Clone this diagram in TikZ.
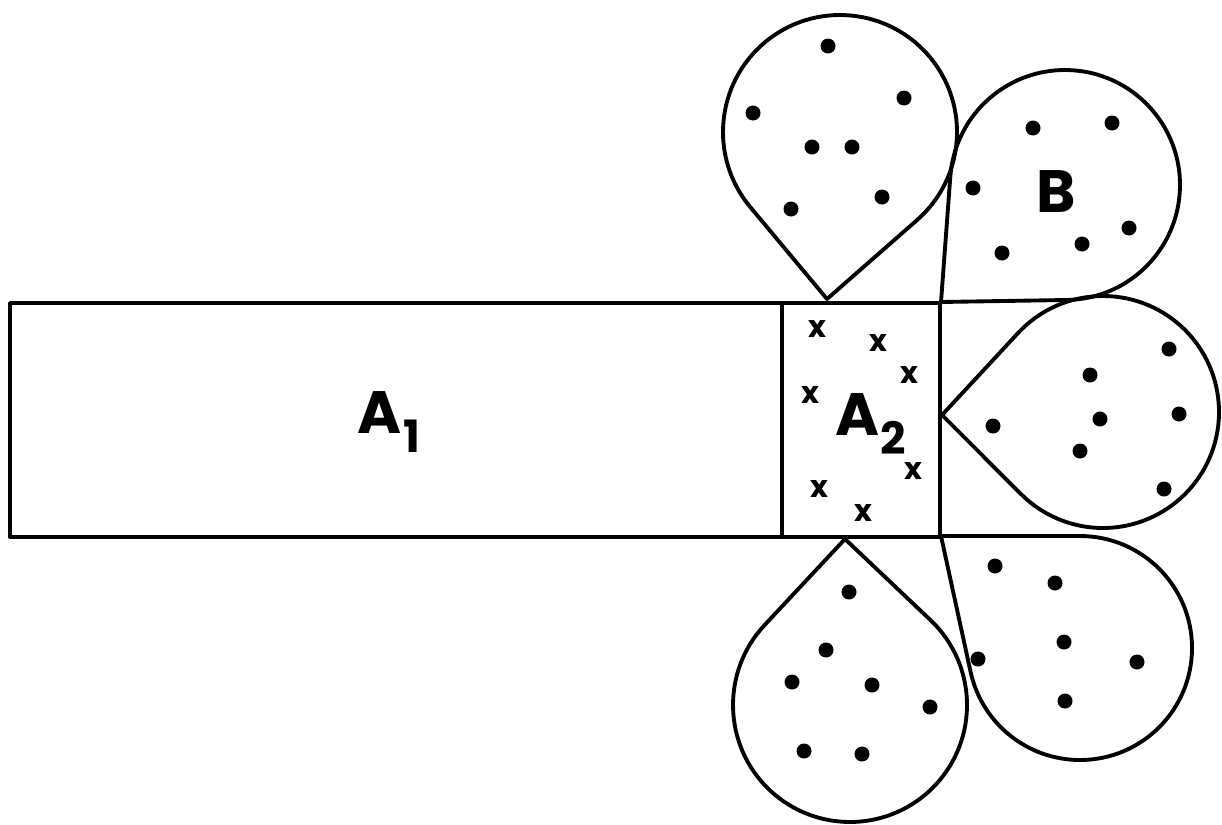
\documentclass[tikz,border=0pt]{standalone}
\usepackage{fontspec}
\setmainfont{Poppins}
\usepackage{tikz}
\usetikzlibrary{calc}
\tikzset{
  outline/.style={
    line width=3.3pt,
    line join=round
  },
  region/.style={
    font=\fontsize{51}{51}\selectfont\bfseries,
    inner sep=0pt
  },
  crossmark/.style={
    font=\fontsize{26}{26}\selectfont\bfseries,
    inner sep=0pt
  },
  dot/.style={
    fill=black
  }
}
% drop with its tip at (#1,#2), round part centred at (#3,#4), radius #5
\newcommand{\drop}[5]{%
  \pgfmathsetmacro{\dropdist}{veclen(#1-#3,#2-#4)}%
  \pgfmathsetmacro{\dropang}{atan2(#2-#4,#1-#3)}%
  \pgfmathsetmacro{\dropopen}{acos(#5/\dropdist)}%
  \draw[outline] (#1,#2) -- ($(#3,#4)+(\dropang+\dropopen:#5)$)
    arc[start angle=\dropang+\dropopen, delta angle=360-2*\dropopen, radius=#5] -- cycle;
}

\begin{document}
\begin{tikzpicture}[x=0.3mm,y=-0.3mm]
  \useasboundingbox (0,0) rectangle (1222,824);

  % strip A1 | A2
  \draw[outline] (10,303) rectangle (940,537);
  \draw[outline] (782,303) -- (782,537);

  % the five drops of B
  \drop{827}{299}{840}{132}{117}
  \drop{845}{539}{850}{705}{117}
  \drop{941}{302}{1065}{185}{115}
  \drop{942}{415}{1103}{412}{116}
  \drop{941}{536}{1080}{648}{112}

  \node[region, anchor=base] (a1) at (389,433) {A\kern2pt\raisebox{-17pt}{\fontsize{38}{38}\selectfont 1}};
  \node[region, anchor=base] (a2) at (871,435) {A\kern1pt\raisebox{-17pt}{\fontsize{38}{38}\selectfont 2}};
  \node[region, anchor=base] (b) at (1056,212) {B};

  % points of B
  \path[dot] (828,46) circle[radius=7.5] (753,113) circle[radius=7.5]
        (904,98) circle[radius=7.5] (812,147) circle[radius=7.5]
        (852,147) circle[radius=7.5] (791,209) circle[radius=7.5]
        (882,197) circle[radius=7.5]
        (1033,128) circle[radius=7.5] (1112,123) circle[radius=7.5]
        (973,188) circle[radius=7.5] (1002,253) circle[radius=7.5]
        (1082,244) circle[radius=7.5] (1129,228) circle[radius=7.5]
        (1169,349) circle[radius=7.5] (1090,375) circle[radius=7.5]
        (993,426) circle[radius=7.5] (1100,419) circle[radius=7.5]
        (1179,414) circle[radius=7.5] (1080,451) circle[radius=7.5]
        (1164,489) circle[radius=7.5]
        (995,566) circle[radius=7.5] (1055,583) circle[radius=7.5]
        (1064,642) circle[radius=7.5] (978,659) circle[radius=7.5]
        (1137,662) circle[radius=7.5] (1065,701) circle[radius=7.5]
        (849,592) circle[radius=7.5] (826,650) circle[radius=7.5]
        (792,682) circle[radius=7.5] (872,685) circle[radius=7.5]
        (930,707) circle[radius=7.5] (804,751) circle[radius=7.5]
        (862,754) circle[radius=7.5];

  % points of A2
  \node[crossmark] (x1) at (817,329) {x};
  \node[crossmark] (x2) at (878,343) {x};
  \node[crossmark] (x3) at (909,375) {x};
  \node[crossmark] (x4) at (810,395) {x};
  \node[crossmark] (x5) at (913,471) {x};
  \node[crossmark] (x6) at (819,489) {x};
  \node[crossmark] (x7) at (863,513) {x};
\end{tikzpicture}
\end{document}
